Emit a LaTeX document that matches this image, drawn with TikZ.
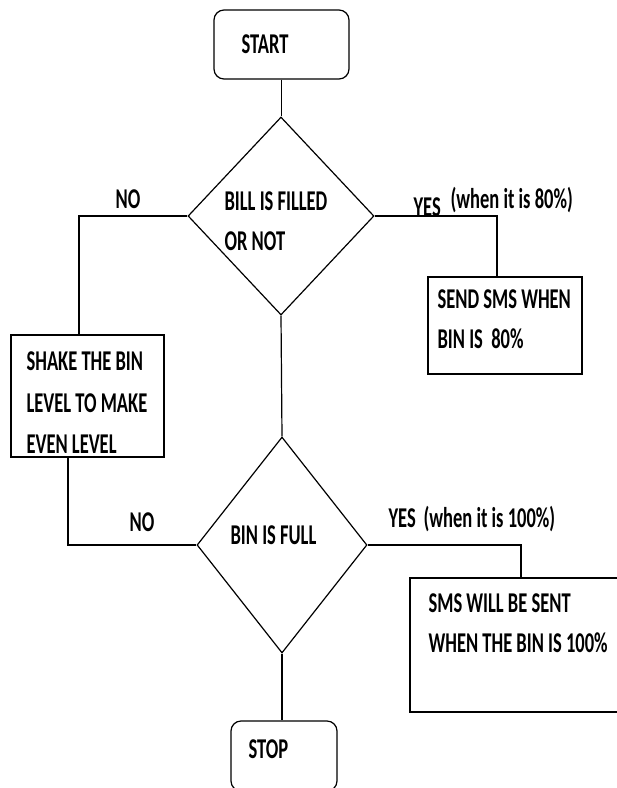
\documentclass[tikz,border=0pt]{standalone}
\usepackage{fontspec}
\setmainfont{Carlito}
\usepackage{graphicx}
\usetikzlibrary{shapes.geometric}
\newcommand\tx[1]{\scalebox{1}[1.55]{#1}}
\begin{document}
\begin{tikzpicture}[x=1pt,y=-1pt,line width=1.2pt,
  lbl/.style={anchor=base west,inner sep=0pt,font=\fontsize{18.5}{20}\selectfont\bfseries},
  term/.style={draw,rounded corners=10pt,inner sep=0pt},
  proc/.style={draw,rectangle,inner sep=0pt},
  deci/.style={draw,diamond,inner sep=0pt}]
\useasboundingbox (0,0) rectangle (617,788);
\clip (0,0) rectangle (617,788);
% shapes
\node[term,minimum width=135pt,minimum height=69pt] (start) at (281.5,44.5) {};
\node[deci,minimum width=186pt,minimum height=198pt] (d1) at (281,216) {};
\node[deci,minimum width=170pt,minimum height=216pt] (d2) at (282,545) {};
\node[term,minimum width=106pt,minimum height=70pt] (stop) at (284,756) {};
\node[proc,minimum width=153pt,minimum height=122pt] (shake) at (87.5,396) {};
\node[proc,minimum width=154pt,minimum height=97pt] (sms1) at (505,325.5) {};
\node[proc,minimum width=212pt,minimum height=134pt] (sms2) at (516,645) {};
% connectors
\draw (start.south) -- (start.south |- d1.north);
\draw (d1.south) -- (d2.north);
\draw (d2.south) -- (d2.south |- stop.north);
\draw (d1.west) -| ([xshift=-8.5pt]shake.north);
\draw ([xshift=-19.5pt]shake.south) |- (d2.west);
\draw (d1.east) -| ([xshift=-8pt]sms1.north);
\draw (d2.east) -| ([xshift=5pt]sms2.north);
% labels
\node[lbl] (tstart) at (241,53) {\tx{START}};
\node[lbl] (td1a) at (224,210) {\tx{BILL IS FILLED}};
\node[lbl] (td1b) at (224,250) {\tx{OR NOT}};
\node[lbl] (tno1) at (115,208) {\tx{NO}};
\node[lbl] (tyes1) at (413,216) {\tx{YES}};
\node[lbl] (tw80) at (450,208) {\tx{(when it is 80\%)}};
\node[lbl] (ts1a) at (437,308) {\tx{SEND SMS WHEN}};
\node[lbl] (ts1b) at (437,348) {\tx{BIN IS\ \ 80\%}};
\node[lbl] (tsha) at (26,370) {\tx{SHAKE THE BIN}};
\node[lbl] (tshb) at (26,412) {\tx{LEVEL TO MAKE}};
\node[lbl] (tshc) at (26,453) {\tx{EVEN LEVEL}};
\node[lbl] (tno2) at (129,531) {\tx{NO}};
\node[lbl] (td2) at (230,544) {\tx{BIN IS FULL}};
\node[lbl] (tyes2) at (388,527) {\tx{YES}};
\node[lbl] (tw100) at (423,527) {\tx{(when it is 100\%)}};
\node[lbl] (ts2a) at (428,612) {\tx{SMS WILL BE SENT}};
\node[lbl] (ts2b) at (428,652) {\tx{WHEN THE BIN IS 100\%}};
\node[lbl] (tstop) at (248,758) {\tx{STOP}};
\end{tikzpicture}
\end{document}
